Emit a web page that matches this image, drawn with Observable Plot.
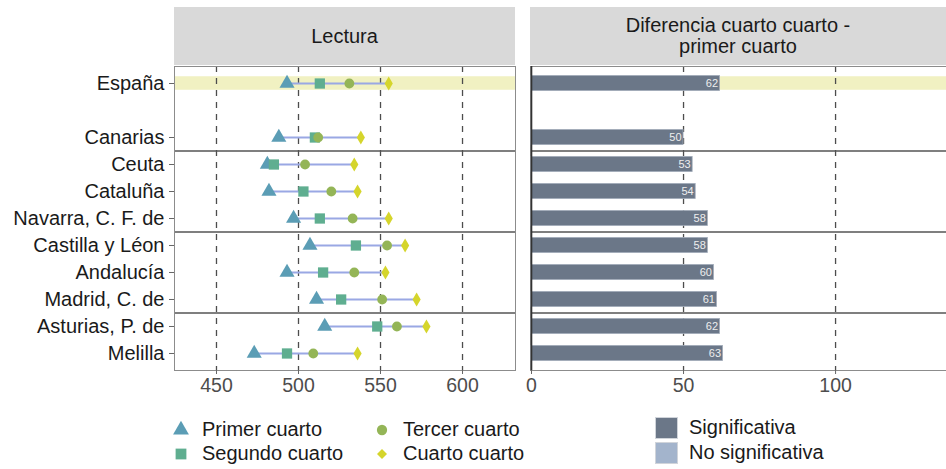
<!DOCTYPE html>
<html><head><meta charset="utf-8">
<script src="https://cdn.jsdelivr.net/npm/d3@7"></script>
<script src="https://cdn.jsdelivr.net/npm/@observablehq/plot@0.6"></script>
<style>
body{margin:0;background:#fff;overflow:hidden;font-family:"Liberation Sans",Arial,sans-serif;}
#wrap{position:relative;width:946px;height:469px;overflow:hidden;}
.strip{position:absolute;background:#d9d9d9;color:#1a1a1a;font-size:20px;display:flex;align-items:center;justify-content:center;text-align:center;line-height:21px;}
.plot{position:absolute;top:0;}
.leg{position:absolute;font-size:20px;color:#1a1a1a;display:flex;align-items:center;white-space:nowrap;}
</style></head><body><div id="wrap"></div>
<script>
// ---- data ----
const regions = ["España","Canarias","Ceuta","Cataluña","Navarra, C. F. de","Castilla y Léon","Andalucía","Madrid, C. de","Asturias, P. de","Melilla"];
const slots   = [0,2,3,4,5,6,7,8,9,10];
const primer  = [493,488,481,482,497,507,493,511,516,473];
const segundo = [513,510,485,503,513,535,515,526,548,493];
const tercer  = [531,512,504,520,533,554,534,551,560,509];
const cuarto  = [555,538,534,536,555,565,553,572,578,536];
const diferencia = [62,50,53,54,58,58,60,61,62,63];
const significancia = ["Significativa","Significativa","Significativa","Significativa","Significativa","Significativa","Significativa","Significativa","Significativa","Significativa"];
const highlighted = ["España"];
const groupStarts = ["Ceuta","Castilla y Léon","Asturias, P. de"];
const seriesNames = ["Primer cuarto","Segundo cuarto","Tercer cuarto","Cuarto cuarto"];
const sigNames = ["Significativa","No significativa"];
const lecturaTicks = [450,500,550,600];
const difTicks = [0,50,100];

// ---- styles ----
const seriesColors = ["#5b9db5","#5fae90","#94b557","#d5d52c"];
const seriesSymbols = ["triangle","square","circle","diamond"];
const seriesR = [5.6,5.8,4.9,4.3];
const sigColors = {"Significativa":"#6b7788","No significativa":"#a3b4cc"};
const linkColor = "#9aa8e4";
const hlColor = "#f1f1c2";
const barHalf = 0.28;
const hlHalf = 0.25;
const font = '"Liberation Sans", Arial, sans-serif';

const rows = regions.map((r,i)=>({region:r, slot:slots[i], q1:primer[i], q2:segundo[i], q3:tercer[i], q4:cuarto[i], diff:diferencia[i], sig:significancia[i]}));
const hlRows = rows.filter(d=>highlighted.includes(d.region));
const seps = rows.filter(d=>groupStarts.includes(d.region)).map(d=>d.slot-0.5);
const slotName = new Map(rows.map(d=>[d.slot,d.region]));

const H = 400, MT = 66, MB = 30;
const yScale = {domain:[-0.63,10.63], reverse:true, axis:null};

const wrap = document.getElementById("wrap");

// ---- left panel ----
const left = Plot.plot({
  width:520, height:H, marginLeft:174, marginRight:5, marginTop:MT, marginBottom:MB,
  style:{fontFamily:font, background:"transparent", overflow:"visible"},
  x:{domain:[424.4,632.3]},
  y:yScale,
  marks:[
    Plot.rect(hlRows,{y1:d=>d.slot-hlHalf, y2:d=>d.slot+hlHalf, fill:hlColor}),
    Plot.ruleX(lecturaTicks,{stroke:"#4d4d4d", strokeWidth:1.3, strokeDasharray:"6,6"}),
    Plot.ruleY(seps,{stroke:"#555", strokeWidth:1.4}),
    Plot.frame({stroke:"#8c8c8c"}),
    Plot.ruleY(rows,{y:"slot", x1:"q1", x2:"q4", stroke:linkColor, strokeWidth:2}),
    ...["q1","q2","q3","q4"].map((k,i)=>Plot.dot(rows,{x:k, y:"slot", symbol:seriesSymbols[i], r:seriesR[i], fill:seriesColors[i], stroke:"none"})),
    Plot.axisY({ticks:slots, tickFormat:v=>slotName.get(v), tickSize:5, tickPadding:5, fontSize:20, fill:"#1a1a1a", stroke:"#666", label:null}),
    Plot.axisX({ticks:lecturaTicks, tickSize:4, tickPadding:4, fontSize:19.5, fill:"#4d4d4d", stroke:"#666", label:null})
  ]
});
left.classList.add("plot"); left.style.left="0px";
wrap.appendChild(left);

// ---- right panel ----
const right = Plot.plot({
  width:430, height:H, marginLeft:10, marginRight:0, marginTop:MT, marginBottom:MB,
  style:{fontFamily:font, background:"transparent", overflow:"visible"},
  x:{domain:[-0.33,137.8]},
  y:yScale,
  marks:[
    Plot.rect(hlRows,{y1:d=>d.slot-hlHalf, y2:d=>d.slot+hlHalf, fill:hlColor}),
    Plot.ruleX(difTicks.filter(v=>v>0),{stroke:"#4d4d4d", strokeWidth:1.3, strokeDasharray:"6,6"}),
    Plot.ruleY(seps,{stroke:"#555", strokeWidth:1.4}),
    Plot.frame({stroke:"#8c8c8c"}),
    Plot.rect(rows,{x1:0, x2:"diff", y1:d=>d.slot-barHalf, y2:d=>d.slot+barHalf, fill:d=>sigColors[d.sig], stroke:"#a2acba", strokeWidth:0.8}),
    Plot.text(rows,{x:"diff", y:"slot", text:d=>String(d.diff), textAnchor:"end", dx:-2, fill:"#eeeeee", fontSize:11}),
    Plot.ruleX([0],{stroke:"#333", strokeWidth:1.6}),
    Plot.axisX({ticks:difTicks, tickSize:4, tickPadding:4, fontSize:19.5, fill:"#4d4d4d", stroke:"#666", label:null})
  ]
});
right.classList.add("plot"); right.style.left="520px";
wrap.appendChild(right);

// ---- strips ----
function strip(x,w,html){const d=document.createElement("div");d.className="strip";d.style.left=x+"px";d.style.top="7px";d.style.width=w+"px";d.style.height=(MT-8)+"px";d.innerHTML=html;wrap.appendChild(d);}
strip(174,341,"Lectura");
strip(530,416,"Diferencia cuarto cuarto -<br>primer cuarto");

// ---- legends ----
const d3sym = {triangle:d3.symbolTriangle, square:d3.symbolSquare, circle:d3.symbolCircle, diamond:d3.symbolDiamond2};
function symLegend(i,x,y){
  const d=document.createElement("div");d.className="leg";d.style.left=(x-10)+"px";d.style.top=(y-11)+"px";
  const p=d3.symbol().type(d3sym[seriesSymbols[i]]).size(Math.PI*seriesR[i]*seriesR[i]*1.1)();
  d.innerHTML=`<svg width="20" height="22" viewBox="-10 -11 20 22" style="margin-right:11px"><path d="${p}" fill="${seriesColors[i]}"/></svg><span>${seriesNames[i]}</span>`;
  wrap.appendChild(d);
}
symLegend(0,181,429); symLegend(1,181,453); symLegend(2,382,429); symLegend(3,382,453);
function sigLegend(i,x,y){
  const d=document.createElement("div");d.className="leg";d.style.left=x+"px";d.style.top=y+"px";
  d.innerHTML=`<svg width="23" height="22" style="margin-right:11px"><rect x="0.5" y="0.5" width="22" height="21" fill="${sigColors[sigNames[i]]}" stroke="#d0d4da"/></svg><span>${sigNames[i]}</span>`;
  wrap.appendChild(d);
}
sigLegend(0,655,416); sigLegend(1,655,441);
</script></body></html>
